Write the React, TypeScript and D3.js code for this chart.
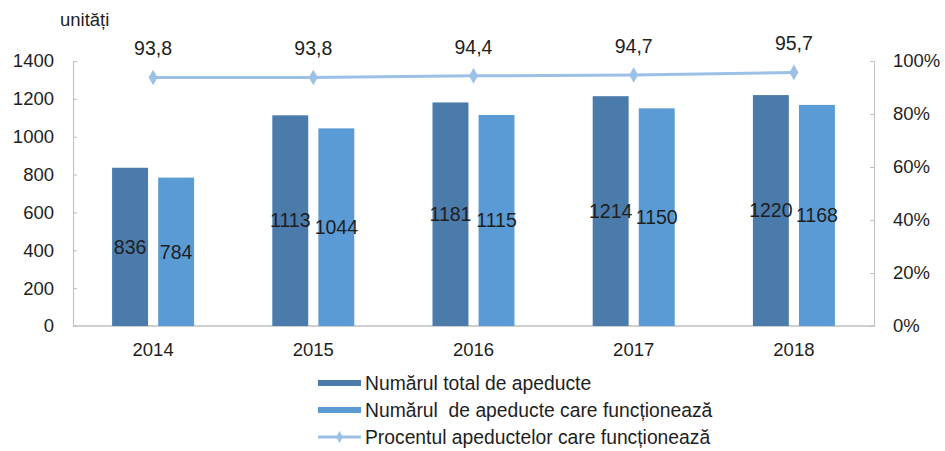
import { useRef, useEffect } from "react";
import * as d3 from "d3";

const years = ["2014", "2015", "2016", "2017", "2018"];
const totalValues = [836, 1113, 1181, 1214, 1220];
const workingValues = [784, 1044, 1115, 1150, 1168];
const percentValues = [93.8, 93.8, 94.4, 94.7, 95.7];
const leftTicks = [0, 200, 400, 600, 800, 1000, 1200, 1400];
const rightTicks = [0, 20, 40, 60, 80, 100];
const seriesNames = [
  "Numărul total de apeducte",
  "Numărul  de apeducte care funcționează",
  "Procentul apeductelor care funcționează",
];

const DARK = "#4a7bab";
const LIGHT = "#5b9bd5";
const LINE = "#9dc0e6";
const AXIS = "#bfbfbf";
const FONT = "Liberation Sans, Arial, sans-serif";
const TXT = "#1e1e1e";

const App = () => {
  const svgRef = useRef<SVGSVGElement>(null);

  useEffect(() => {
    const svg = d3.select(svgRef.current);
    svg.selectAll("*").remove();
    const width = 945;
    const height = 451;
    const left = 73;
    const right = 874;
    const top = 61;
    const bottom = 326;

    svg.attr("width", width).attr("height", height);

    const x = d3.scaleBand().domain(years).range([left, right]);
    const inner = d3
      .scaleBand()
      .domain(["total", "working"])
      .range([x.bandwidth() / 2 - 41, x.bandwidth() / 2 + 41])
      .paddingInner(0.22);
    const y = d3.scaleLinear().domain([0, 1400]).range([bottom, top]);
    const yp = d3.scaleLinear().domain([0, 100]).range([bottom, top]);

    // Left axis
    const la = svg
      .append("g")
      .attr("transform", `translate(${left},0)`)
      .call(d3.axisRight(y).tickValues(leftTicks).tickSize(4).tickFormat(() => ""));
    la.selectAll("path, line").attr("stroke", AXIS);
    svg
      .append("g")
      .selectAll("text")
      .data(leftTicks)
      .enter()
      .append("text")
      .attr("x", 54)
      .attr("y", (d) => y(d))
      .attr("dy", "0.35em")
      .attr("text-anchor", "end")
      .attr("font-family", FONT)
      .attr("font-size", 18.5)
      .attr("fill", TXT)
      .text((d) => d);

    // Right axis
    const ra = svg
      .append("g")
      .attr("transform", `translate(${right},0)`)
      .call(d3.axisLeft(yp).tickValues(rightTicks).tickSize(4).tickFormat(() => ""));
    ra.selectAll("path, line").attr("stroke", AXIS);
    svg
      .append("g")
      .selectAll("text")
      .data(rightTicks)
      .enter()
      .append("text")
      .attr("x", 893)
      .attr("y", (d) => yp(d))
      .attr("dy", "0.35em")
      .attr("font-family", FONT)
      .attr("font-size", 18.5)
      .attr("fill", TXT)
      .text((d) => `${d}%`);

    // Bottom axis
    svg
      .append("line")
      .attr("x1", left)
      .attr("x2", right)
      .attr("y1", bottom)
      .attr("y2", bottom)
      .attr("stroke", AXIS)
      .attr("stroke-width", 1.5);
    svg
      .append("g")
      .selectAll("text")
      .data(years)
      .enter()
      .append("text")
      .attr("x", (d) => x(d)! + x.bandwidth() / 2)
      .attr("y", 350)
      .attr("dy", "0.35em")
      .attr("text-anchor", "middle")
      .attr("font-family", FONT)
      .attr("font-size", 18.5)
      .attr("fill", TXT)
      .text((d) => d);

    svg
      .append("text")
      .attr("x", 60)
      .attr("y", 26)
      .attr("font-family", FONT)
      .attr("font-size", 18.5)
      .attr("fill", TXT)
      .text("unități");

    // Bars
    const groups = svg
      .append("g")
      .selectAll("g")
      .data(years.map((yr, i) => ({ yr, total: totalValues[i], working: workingValues[i] })))
      .enter()
      .append("g")
      .attr("transform", (d) => `translate(${x(d.yr)},0)`);

    const bars = [
      { key: "total", color: DARK },
      { key: "working", color: LIGHT },
    ];
    bars.forEach((b) => {
      groups
        .append("rect")
        .attr("x", inner(b.key)!)
        .attr("width", inner.bandwidth())
        .attr("y", (d: any) => y(d[b.key]))
        .attr("height", (d: any) => bottom - y(d[b.key]))
        .attr("fill", b.color);
      groups
        .append("text")
        .attr("x", inner(b.key)! + inner.bandwidth() / 2)
        .attr("y", (d: any) => (y(d[b.key]) + bottom) / 2)
        .attr("dy", "0.35em")
        .attr("text-anchor", "middle")
        .attr("font-family", FONT)
        .attr("font-size", 19.5)
        .attr("fill", TXT)
        .text((d: any) => d[b.key]);
    });

    // Percent line
    const cx = (i: number) => x(years[i])! + x.bandwidth() / 2;
    const line = d3
      .line<number>()
      .x((d, i) => cx(i))
      .y((d) => yp(d));
    svg
      .append("path")
      .datum(percentValues)
      .attr("d", line)
      .attr("fill", "none")
      .attr("stroke", LINE)
      .attr("stroke-width", 3);
    const diamond = d3.symbol().type(d3.symbolDiamond).size(70);
    svg
      .append("g")
      .selectAll("path")
      .data(percentValues)
      .enter()
      .append("path")
      .attr("d", diamond)
      .attr("transform", (d, i) => `translate(${cx(i)},${yp(d)})`)
      .attr("fill", LINE);
    svg
      .append("g")
      .selectAll("text")
      .data(percentValues)
      .enter()
      .append("text")
      .attr("x", (d, i) => cx(i))
      .attr("y", (d) => yp(d) - 29)
      .attr("dy", "0.35em")
      .attr("text-anchor", "middle")
      .attr("font-family", FONT)
      .attr("font-size", 19.5)
      .attr("fill", TXT)
      .text((d) => d.toFixed(1).replace(".", ","));

    // Legend
    const lg = svg.append("g").attr("transform", "translate(318,383)");
    seriesNames.forEach((name, i) => {
      const row = lg.append("g").attr("transform", `translate(0,${i * 27})`);
      if (i < 2) {
        row
          .append("rect")
          .attr("x", 0)
          .attr("y", -3)
          .attr("width", 43)
          .attr("height", 6)
          .attr("fill", i === 0 ? DARK : LIGHT);
      } else {
        row
          .append("line")
          .attr("x1", 0)
          .attr("x2", 43)
          .attr("stroke", LINE)
          .attr("stroke-width", 3);
        row
          .append("path")
          .attr("d", d3.symbol().type(d3.symbolDiamond).size(40))
          .attr("transform", "translate(21.5,0)")
          .attr("fill", LINE);
      }
      row
        .append("text")
        .attr("x", 47)
        .attr("dy", "0.35em")
        .attr("font-family", FONT)
        .attr("font-size", 19.3)
        .attr("fill", TXT)
        .style("white-space", "pre")
        .text(name);
    });
  }, []);

  return <svg ref={svgRef} style={{ display: "block", position: "absolute", left: 0, top: 0 }}></svg>;
};

export default App;
